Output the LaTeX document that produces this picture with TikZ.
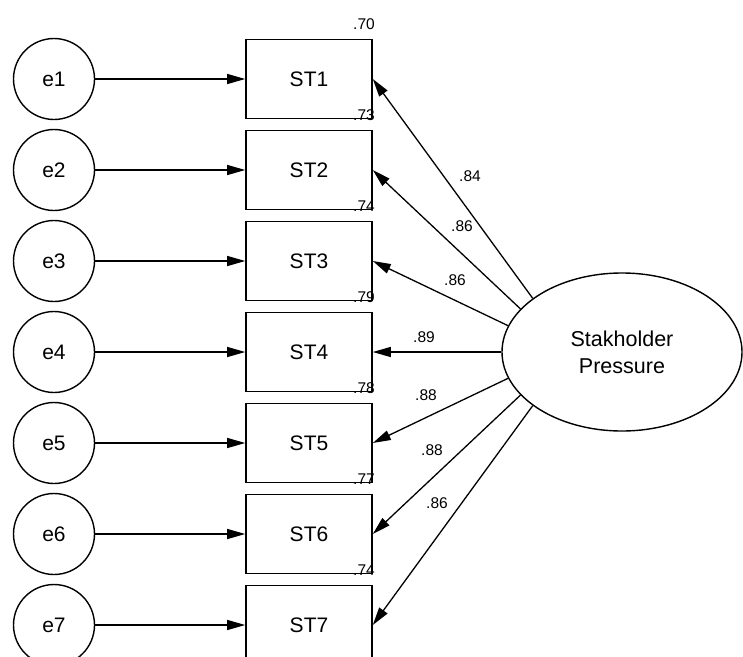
\documentclass[tikz,border=0pt]{standalone}
\usepackage{fontspec}
\setmainfont{Liberation Sans}
\usetikzlibrary{arrows.meta,shapes.geometric}
\begin{document}
\begin{tikzpicture}[x=1pt,y=-1pt,
  errvar/.style={circle,draw,line width=1.4pt,minimum size=81pt,inner sep=0pt,font=\fontsize{21}{25}\selectfont},
  obsvar/.style={rectangle,draw,line width=1.6pt,minimum width=126pt,minimum height=79pt,inner sep=0pt,font=\fontsize{21}{25}\selectfont},
  latent/.style={ellipse,draw,line width=1.4pt,minimum width=240pt,minimum height=158pt,inner sep=0pt,align=center,font=\fontsize{21.5}{27}\selectfont},
  small/.style={inner sep=0pt,font=\fontsize{15.5}{18}\selectfont},
  arr/.style={line width=1.3pt,-{Triangle[length=18pt,width=10pt]}}]
\useasboundingbox (0,0) rectangle (743,656);

% latent factor
\node[latent] (sp) at (622,352) {Stakholder\\Pressure};

% indicators with their error terms and squared multiple correlations
\foreach \i/\y/\r in {1/79/.70,2/170/.73,3/261/.74,4/352/.79,5/443/.78,6/534/.77,7/625/.74}{
  \node[errvar] (e\i) at (54,\y) {e\i};
  \node[obsvar] (st\i) at (309,\y) {ST\i};
  \node[small] (r\i) at (364,\y-55) {\r};
  \draw[arr] (e\i) -- (st\i);
}

% factor loadings
\draw[arr] (sp.149) -- (st1.east);
\draw[arr] (sp.157) -- (st2.east);
\draw[arr] (sp.167) -- (st3.east);
\draw[arr] (sp.180) -- (st4.east);
\draw[arr] (sp.193) -- (st5.east);
\draw[arr] (sp.203) -- (st6.east);
\draw[arr] (sp.211) -- (st7.east);

\node[small] (l1) at (470,176) {.84};
\node[small] (l2) at (462,226) {.86};
\node[small] (l3) at (455,280) {.86};
\node[small] (l4) at (424,337) {.89};
\node[small] (l5) at (426,395) {.88};
\node[small] (l6) at (432,450) {.88};
\node[small] (l7) at (437,503) {.86};
\end{tikzpicture}
\end{document}
